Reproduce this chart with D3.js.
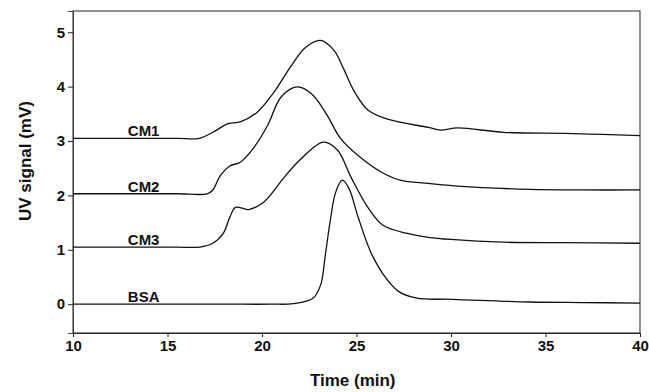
<!DOCTYPE html>
<html>
<head>
<meta charset="utf-8">
<script src="https://cdn.jsdelivr.net/npm/d3@7"></script>
<style>
  body { margin: 0; background: #fff; }
  svg { display: block; font-family: Arial, "Liberation Sans", sans-serif; }
</style>
</head>
<body>
<div id="chart"></div>
<script>
// time (min) and UV signal (mV), baselines already offset
const cm1T = [10, 13, 15.5, 16.7, 17.4, 18.2, 18.85, 19.75, 20.6, 21.5, 22.3, 23.1, 23.8, 24.3, 24.85, 25.6, 26.65, 28.8, 29.45, 30.35, 32.8, 36, 38, 40];
const cm1V = [3.05, 3.05, 3.05, 3.05, 3.16, 3.32, 3.35, 3.53, 3.88, 4.36, 4.72, 4.85, 4.67, 4.34, 3.93, 3.57, 3.40, 3.25, 3.20, 3.24, 3.16, 3.14, 3.12, 3.10];

const cm2T = [10, 13, 15.5, 17.1, 17.4, 17.8, 18.3, 18.85, 19.55, 20.3, 20.97, 21.66, 22.0, 22.7, 23.45, 24.15, 25.2, 26.3, 27.3, 28.8, 30.35, 34.2, 37, 40];
const cm2V = [2.03, 2.03, 2.03, 2.03, 2.10, 2.37, 2.54, 2.61, 2.87, 3.29, 3.79, 3.98, 3.99, 3.84, 3.47, 3.05, 2.70, 2.43, 2.28, 2.22, 2.17, 2.11, 2.10, 2.10];

const cm3T = [10, 13, 15.5, 16.7, 17.4, 17.95, 18.3, 18.6, 19.3, 20.1, 21.1, 22.0, 23.25, 24.0, 24.7, 25.6, 26.4, 27.7, 28.8, 30.0, 32.8, 36, 40];
const cm3V = [1.05, 1.05, 1.05, 1.05, 1.12, 1.30, 1.60, 1.78, 1.74, 1.88, 2.30, 2.65, 2.98, 2.83, 2.34, 1.78, 1.45, 1.30, 1.23, 1.19, 1.14, 1.13, 1.12];

const bsaT = [10, 14, 18, 20.5, 21.65, 22.7, 23.1, 23.35, 23.6, 23.9, 24.25, 24.6, 25.05, 25.75, 26.45, 27.2, 28.2, 30.1, 34.2, 37, 40];
const bsaV = [0.0, 0.0, 0.0, 0.0, 0.01, 0.11, 0.35, 0.90, 1.51, 2.06, 2.28, 2.13, 1.64, 0.96, 0.53, 0.24, 0.11, 0.09, 0.04, 0.03, 0.02];

const seriesNames = ['CM1', 'CM2', 'CM3', 'BSA'];
const seriesT = [cm1T, cm2T, cm3T, bsaT];
const seriesV = [cm1V, cm2V, cm3V, bsaV];
const labelT = 12.9;

const xTicks = [10, 15, 20, 25, 30, 35, 40];
const yTicks = [0, 1, 2, 3, 4, 5];

const W = 649, H = 392;
const margin = { top: 11, right: 9, bottom: 59, left: 73 };
const width = W - margin.left - margin.right;
const height = H - margin.top - margin.bottom;

const svg = d3.select('#chart').append('svg')
  .attr('width', W)
  .attr('height', H);

const g = svg.append('g')
  .attr('transform', `translate(${margin.left},${margin.top})`);

const x = d3.scaleLinear().domain([10, 40]).range([0, width]);
const y = d3.scaleLinear().domain([-0.53, 5.39]).range([height, 0]);

// frame
g.append('rect')
  .attr('width', width)
  .attr('height', height)
  .attr('fill', 'none')
  .attr('stroke', '#222')
  .attr('stroke-width', 1);

// x axis
g.append('g')
  .attr('transform', `translate(0,${height})`)
  .call(d3.axisBottom(x).tickValues(xTicks).tickSize(4).tickPadding(3).tickFormat(d3.format('d')))
  .call(a => a.select('.domain').attr('stroke', '#222'))
  .call(a => a.selectAll('line').attr('stroke', '#222'))
  .selectAll('text')
    .style('font-size', '15px')
    .style('font-weight', 'bold')
    .style('fill', '#111');

// y axis
g.append('g')
  .call(d3.axisLeft(y).tickValues(yTicks).tickSize(5).tickPadding(3).tickFormat(d3.format('d')))
  .call(a => a.select('.domain').attr('stroke', '#444'))
  .call(a => a.selectAll('line').attr('stroke', '#222'))
  .selectAll('text')
    .style('font-size', '15px')
    .style('font-weight', 'bold')
    .style('fill', '#111');

// axis titles
svg.append('text')
  .attr('x', margin.left + x(24.8))
  .attr('y', 386)
  .attr('text-anchor', 'middle')
  .style('font-size', '17px')
  .style('font-weight', 'bold')
  .style('fill', '#111')
  .text('Time (min)');

svg.append('text')
  .attr('transform', `translate(31,161) rotate(-90)`)
  .attr('text-anchor', 'middle')
  .style('font-size', '17px')
  .style('font-weight', 'bold')
  .style('fill', '#111')
  .text('UV signal (mV)');

// traces
const line = d3.line()
  .x(d => x(d[0]))
  .y(d => y(d[1]))
  .curve(d3.curveCatmullRom.alpha(0.5));

seriesNames.forEach((name, i) => {
  const pts = seriesT[i].map((t, k) => [t, seriesV[i][k]]);
  g.append('path')
    .datum(pts)
    .attr('fill', 'none')
    .attr('stroke', '#111')
    .attr('stroke-width', 1.3)
    .attr('d', line);

  g.append('text')
    .attr('x', x(labelT))
    .attr('y', y(seriesV[i][0]) - 2)
    .style('font-size', '15px')
    .style('font-weight', 'bold')
    .style('fill', '#111')
    .text(name);
});
</script>
</body>
</html>
